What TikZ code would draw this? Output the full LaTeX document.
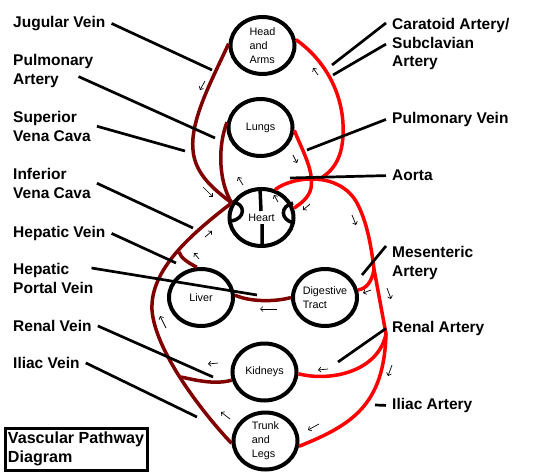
\documentclass[tikz,border=0pt]{standalone}
\usepackage{fontspec}
\setmainfont{Liberation Sans}
\usepackage{tikz}
\usetikzlibrary{arrows.meta,shapes.geometric}
\definecolor{vein}{HTML}{800000}
\definecolor{artery}{HTML}{FF0000}

\begin{document}
\begin{tikzpicture}[
      x=1pt, y=-1pt,
      organ/.style={ellipse, draw, line width=4pt, minimum width=64pt, minimum height=57pt,
                    inner sep=0pt, align=left, font=\fontsize{10.8}{14}\selectfont},
      lbl/.style={anchor=north west, inner xsep=6pt, inner ysep=0pt, align=left,
                  font=\bfseries\fontsize{15.5}{18.7}\selectfont},
      vn/.style={vein, line width=3.5pt},
      art/.style={artery, line width=3.5pt},
      lead/.style={black, line width=2.7pt},
      flow/.style={-{Straight Barb[length=2.5pt,width=5pt]}, line width=0.7pt}
    ]
    \useasboundingbox (0,0) rectangle (538,476);

    \node[organ] (head)    at (262.5, 45.5) {Head\\and\\Arms};
    \node[organ] (lungs)   at (260.5,127.5) {Lungs};
    \node[organ] (heart)   at (261.5,217.5) {Heart};
    \node[organ] (liver)   at (201,  297.5) {Liver};
    \node[organ] (gut)     at (325,  297.5) {Digestive\\Tract};
    \node[organ] (kidneys) at (264.5,372)   {Kidneys};
    \node[organ] (legs)    at (265.5,441)   {Trunk\\and\\Legs};

    \draw[line width=3.5pt] (260,188) -- (261,211) (262,224) -- (262,247);
    \draw[line width=3.5pt] (232,202) .. controls (246,203) and (246,219) .. (231,221);
    \draw[line width=3.5pt] (293,203) .. controls (280,206) and (280,220) .. (294,223);

    \coordinate (hvj) at (179,252);
    \coordinate (rvj) at (181,377);
    \coordinate (aoj) at (318,180);
    \coordinate (mj)  at (374,269);
    \coordinate (rj)  at (386,334);

    \draw[vn] (head.177) .. controls (212,80) and (190,120) .. (193,150)
              .. controls (195,175) and (215,190) .. (heart.154);
    \draw[vn] (lungs.171) .. controls (218,145) and (218,180) .. (heart.154);
    \draw[vn] (heart.154) .. controls (190,235) and (150,270) .. (152,310)
              .. controls (155,350) and (200,410) .. (legs.184);
    \draw[vn] (liver.98) .. controls (187,262) and (181,258) .. (hvj);
    \draw[vn] (gut.180) .. controls (275,302) and (250,302) .. (liver.4);
    \draw[vn] (kidneys.194) .. controls (215,385) and (195,380) .. (rvj);

    \draw[art] (heart.64) .. controls (295,175) and (340,172) .. (357,203)
               .. controls (367,222) and (371,245) .. (mj) -- (rj)
               .. controls (384,405) and (352,425) .. (legs.-9);
    \draw[art] (head.10) .. controls (325,60) and (345,95) .. (343,135)
               .. controls (342,160) and (332,172) .. (aoj);
    \draw[art] (lungs.-5) .. controls (302,150) and (314,170) .. (311,188)
               .. controls (309,198) and (300,204) .. (heart.16);
    \draw[art] (gut.13) .. controls (366,289) and (372,282) .. (mj);
    \draw[art] (kidneys.-3) .. controls (330,382) and (378,372) .. (rj);

    \node[lbl] (jv)  at (7, 16)  {Jugular Vein};
    \node[lbl] (pa)  at (7, 54)  {Pulmonary\\Artery};
    \node[lbl] (svc) at (7,111)  {Superior\\Vena Cava};
    \node[lbl] (ivc) at (7,168)  {Inferior\\Vena Cava};
    \node[lbl] (hv)  at (7,226)  {Hepatic Vein};
    \node[lbl] (hpv) at (7,263)  {Hepatic\\Portal Vein};
    \node[lbl] (rv)  at (7,320)  {Renal Vein};
    \node[lbl] (iv)  at (7,357)  {Iliac Vein};
    \node[lbl] (car) at (386, 18) {Caratoid Artery/\\Subclavian\\Artery};
    \node[lbl] (pv)  at (386,112) {Pulmonary Vein};
    \node[lbl] (ao)  at (386,170) {Aorta};
    \node[lbl] (ma)  at (386,246) {Mesenteric\\Artery};
    \node[lbl] (ra)  at (386,321) {Renal Artery};
    \node[lbl] (ia)  at (386,398) {Iliac Artery};

    \coordinate (jvx)  at (212, 70);
    \coordinate (pax)  at (215,138);
    \coordinate (svcx) at (185,151);
    \coordinate (ivcx) at (193,228);
    \coordinate (hvx)  at (176,263);
    \coordinate (hpvx) at (257,295);
    \coordinate (rvx)  at (213,377);
    \coordinate (ivx)  at (197,417);
    \coordinate (carx) at (332, 65);
    \coordinate (subx) at (333, 75);
    \coordinate (pvx)  at (307,150);
    \coordinate (aox)  at (290,178);
    \coordinate (mesx) at (362,275);
    \coordinate (rax)  at (338,362);
    \coordinate (iax)  at (375,405);

    \draw[lead] (jv.east) -- (jvx);
    \draw[lead] ([xshift=-21pt,yshift=11pt]pa.south east) -- (pax);
    \draw[lead] (svc.east) -- (svcx);
    \draw[lead] (ivc.east) -- (ivcx);
    \draw[lead] (hv.east) -- (hvx);
    \draw[lead] ([xshift=-8pt,yshift=-5pt]hpv.north east) -- (hpvx);
    \draw[lead] (rv.east) -- (rvx);
    \draw[lead] (iv.east) -- (ivx);
    \draw[lead] (carx) -- ([yshift=-5pt]car.north west);
    \draw[lead] (subx) -- (car.west);
    \draw[lead] (pvx) -- (pv.west);
    \draw[lead] (aox) -- (ao.west);
    \draw[lead] (mesx) -- (ma.north west);
    \draw[lead] (rax) -- (ra.west);
    \draw[lead] (iax) -- (ia.west);

    \foreach \a/\b/\c/\d in {205/81/200/90, 318/75/313/68, 293/155/297/163,
        203/187/213/197, 243/185/238/177, 278/202/274/195, 310/204/303/210,
        352/215/356/225, 205/237/212/231, 199/259/194/253, 166/328/160/316,
        277/309/260/309, 371/290/363/293, 387/288/391/299, 218/363/208/364,
        328/369/318/370, 392/365/388/376, 230/419/221/412, 319/424/308/430}
      \draw[flow] (\a,\b) -- (\c,\d);

    \node[draw, line width=3pt, minimum width=142pt, minimum height=42pt, inner sep=0.5pt,
          align=left, font=\bfseries\fontsize{16.1}{18.5}\selectfont] (title) at (76,449)
          {Vascular Pathway\\Diagram};
  \end{tikzpicture}
\end{document}
